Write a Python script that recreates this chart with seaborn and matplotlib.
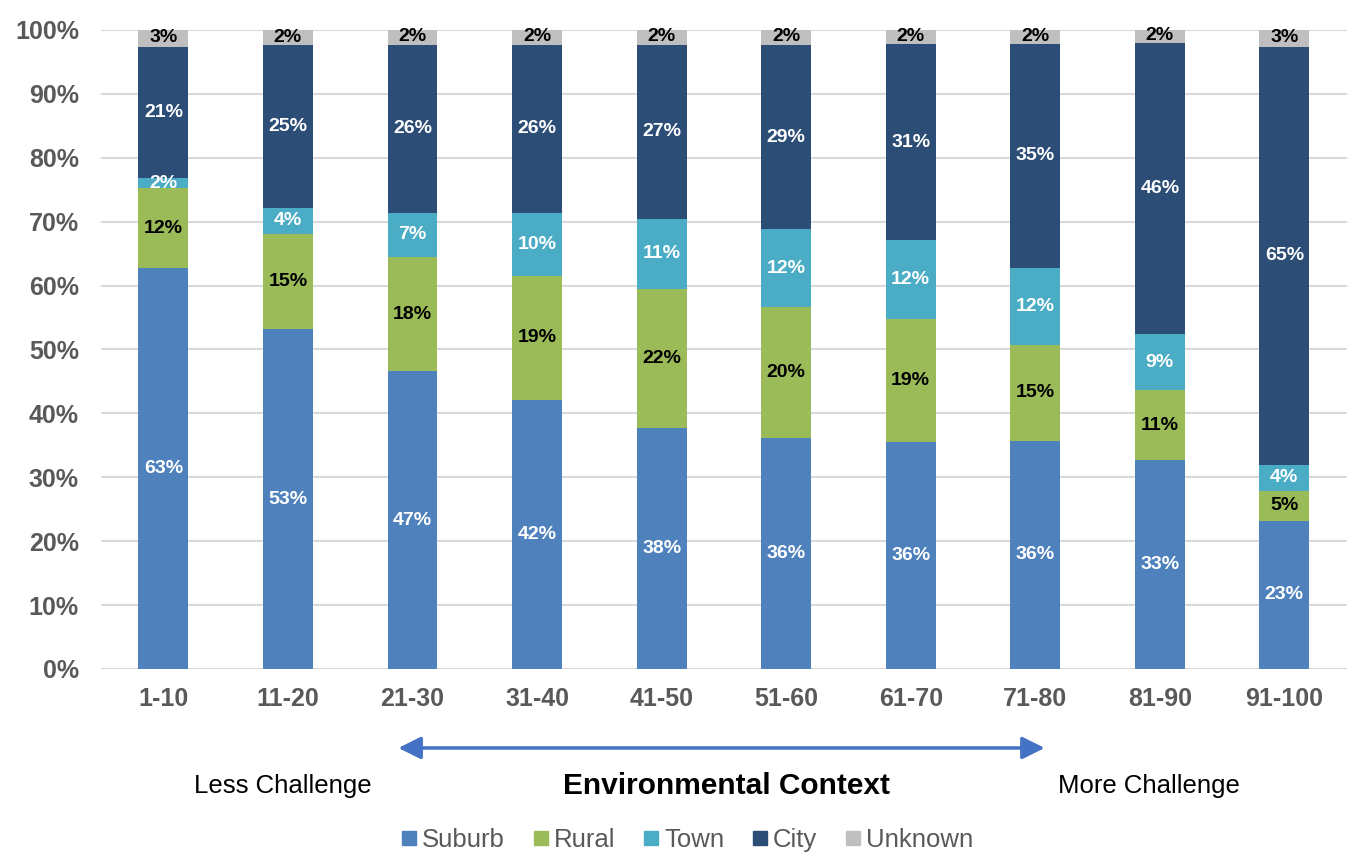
import matplotlib
matplotlib.use("Agg")
import matplotlib.pyplot as plt
from matplotlib.patches import FancyArrowPatch
from matplotlib.lines import Line2D
import numpy as np
import pandas as pd
import seaborn as sns

# Share of schools by locale within each environmental-context decile
categories = ["1-10", "11-20", "21-30", "31-40", "41-50",
              "51-60", "61-70", "71-80", "81-90", "91-100"]
suburb = [62.8, 53.2, 46.6, 42.1, 37.7, 36.2, 35.6, 35.7, 32.7, 23.2]
rural = [12.4, 14.9, 17.9, 19.4, 21.8, 20.4, 19.1, 15.0, 10.9, 4.7]
town = [1.6, 4.1, 6.9, 9.9, 10.9, 12.2, 12.4, 12.1, 8.8, 4.1]
city = [20.6, 25.4, 26.3, 26.3, 27.3, 28.9, 30.7, 35.0, 45.6, 65.4]
unknown = [2.6, 2.4, 2.3, 2.3, 2.3, 2.3, 2.2, 2.2, 2.0, 2.6]

series_names = ["Suburb", "Rural", "Town", "City", "Unknown"]
series_values = [suburb, rural, town, city, unknown]
colors = ["#4f81bd", "#9bbb59", "#4bacc6", "#2c4d75", "#bfbfbf"]
label_colors = ["white", "black", "white", "white", "black"]

sns.set_theme(style="white")
plt.rcParams["font.family"] = ["Liberation Sans", "DejaVu Sans"]

df = pd.DataFrame(dict(zip(series_names, series_values)), index=categories)
cum = df.cumsum(axis=1)

fig = plt.figure(figsize=(13.48, 8.67), dpi=100)
ax = fig.add_axes([0.075, 0.2284, 0.924, 0.737])

# Stacked bars: draw cumulative totals from the top series down
for name, color in zip(reversed(series_names), reversed(colors)):
    sns.barplot(x=categories, y=cum[name].values, color=color, width=0.4,
                saturation=1, ax=ax, zorder=3, order=categories,
                linewidth=0, edgecolor=color)

# Segment labels
for i, cat in enumerate(categories):
    bottom = 0.0
    for name, lc in zip(series_names, label_colors):
        v = df.loc[cat, name]
        y = bottom + v / 2
        if name == "Unknown":
            y = bottom + v / 2 + 0.1
        ax.text(i, y, f"{v:.0f}%", ha="center", va="center", color=lc,
                fontsize=14, fontweight="bold", zorder=5)
        bottom += v

ax.set_xlim(-0.5, 9.5)
ax.set_ylim(0, 100)
ax.set_yticks(np.arange(0, 101, 10))
ax.set_yticklabels([f"{t}%" for t in range(0, 101, 10)])
ax.yaxis.grid(True, color="#d9d9d9", linewidth=1.5, zorder=0)
ax.xaxis.grid(False)
for s in ax.spines.values():
    s.set_visible(False)
ax.tick_params(axis="y", length=0, pad=16, labelsize=18, labelcolor="#595959")
ax.tick_params(axis="x", length=0, pad=13, labelsize=18, labelcolor="#595959")
for lab in ax.get_xticklabels() + ax.get_yticklabels():
    lab.set_fontweight("bold")
ax.set_xlabel("")
ax.set_ylabel("")

# Challenge arrow and captions below the axis
arrow = FancyArrowPatch((0.2935, 0.1373), (0.7770, 0.1373),
                        transform=fig.transFigure, arrowstyle="<|-|>",
                        mutation_scale=34, color="#4472c4", linewidth=2.5)
fig.patches.append(arrow)
fig.text(0.21, 0.0934, "Less Challenge", ha="center", va="center",
         fontsize=18.5, color="black")
fig.text(0.539, 0.0934, "Environmental Context", ha="center", va="center",
         fontsize=21.5, fontweight="bold", color="black")
fig.text(0.852, 0.0934, "More Challenge", ha="center", va="center",
         fontsize=18.5, color="black")

handles = [Line2D([0], [0], marker="s", linestyle="none", markersize=10,
                  markerfacecolor=c, markeredgecolor=c) for c in colors]
leg = fig.legend(handles, series_names, loc="center", ncol=5,
                 bbox_to_anchor=(0.508, 0.031), frameon=False, fontsize=18.5,
                 handletextpad=0.0, columnspacing=0.9, handlelength=1.0)
for t in leg.get_texts():
    t.set_color("#595959")

fig.savefig("out.png", dpi=100)
